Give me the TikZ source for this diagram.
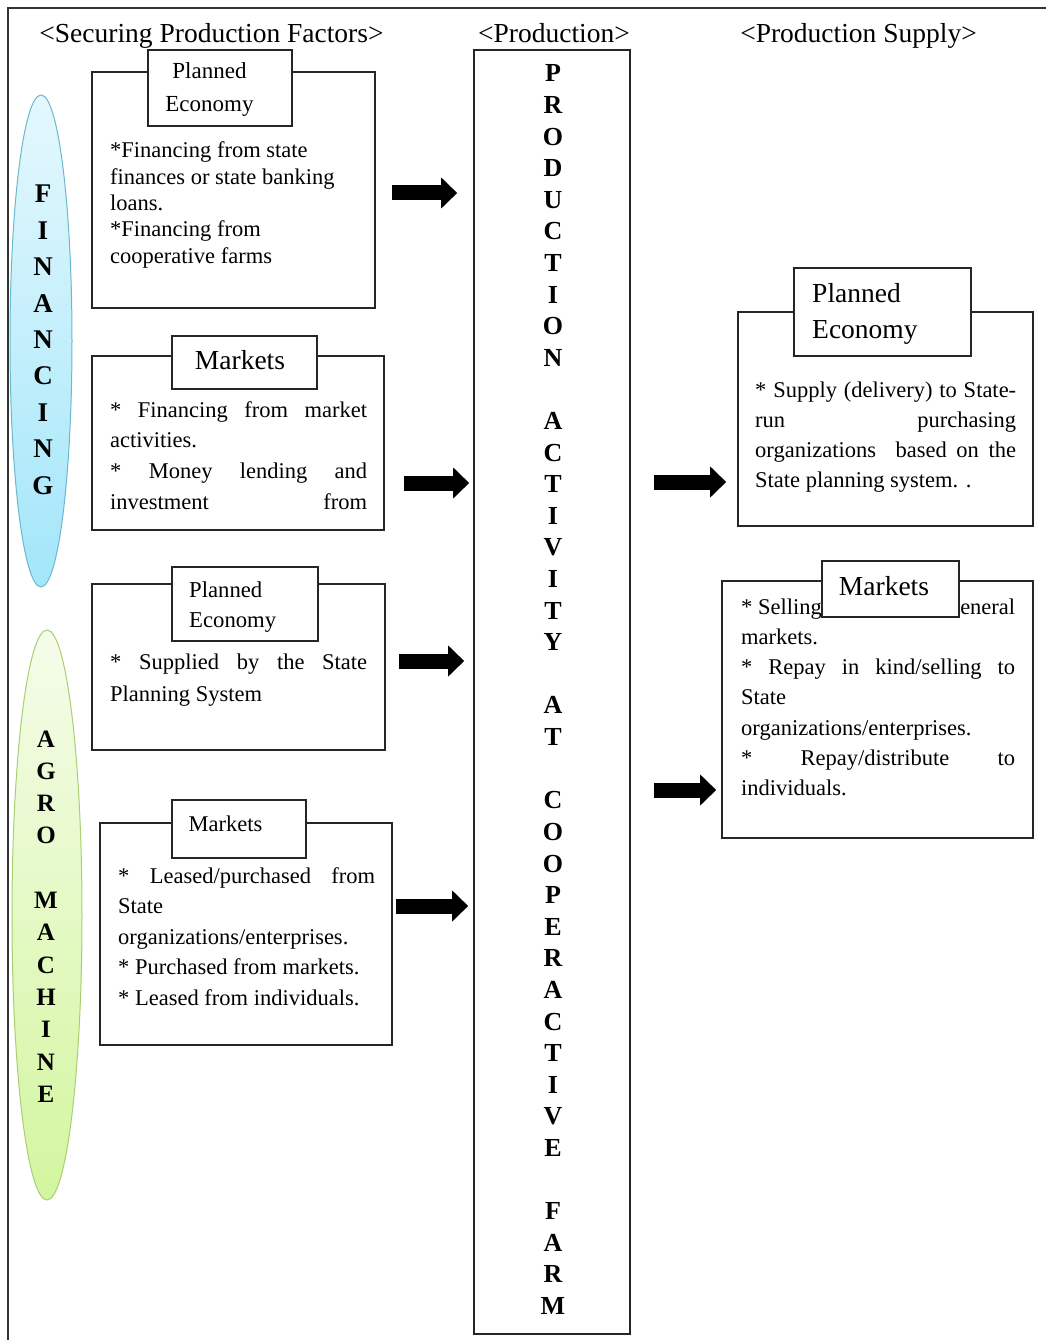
\documentclass[tikz,border=0pt]{standalone}
\usepackage{fontspec}
\setmainfont{Liberation Serif}
\usetikzlibrary{shapes.geometric,arrows.meta,calc}
\definecolor{finA}{HTML}{E4F8FD}
\definecolor{finB}{HTML}{A3E6FA}
\definecolor{finE}{HTML}{6CB9CE}
\definecolor{agA}{HTML}{F5FCEA}
\definecolor{agB}{HTML}{D3F69F}
\definecolor{agE}{HTML}{A9CF72}
\newcommand{\jl}[2][257pt]{\makebox[#1][s]{#2}}
\begin{document}
\begin{tikzpicture}[x=1pt,y=-1pt,
  box/.style={draw=black!85, line width=1.6pt, rectangle, inner sep=0pt},
  tbox/.style={box, fill=white},
  txt/.style={anchor=base west, inner sep=0pt},
  ctxt/.style={anchor=base, inner sep=0pt},
  bigarrow/.style={line width=15pt, -{Triangle[width=30pt,length=16pt]}},
  ell/.style={ellipse, line width=1pt, inner sep=0pt}
]
\useasboundingbox (0,0) rectangle (1045,1340);
\fill[white] (0,0) rectangle (1045,1340);

% ellipses
\node[ell, draw=finE, top color=finA, bottom color=finB, minimum width=62pt, minimum height=492pt] (fin) at (41,341) {};
\node[ell, draw=agE, top color=agA, bottom color=agB, minimum width=70pt, minimum height=570pt] (agro) at (47,915) {};

% outer frame
\draw[line width=1.5pt, black!80] (8,1360) -- (8,8) -- (1060,8);

% headers
\node[ctxt, font=\fontsize{27.5}{30}\selectfont] (h1) at (211.5,43) {<Securing Production Factors>};
\node[ctxt, font=\fontsize{27.5}{30}\selectfont] (h2) at (554,43) {<Production>};
\node[ctxt, font=\fontsize{27.5}{30}\selectfont] (h3) at (858.5,43) {<Production Supply>};

% letter stacks
\node[ctxt] (finl) at (43,203) {\parbox[t]{40pt}{\centering\bfseries\fontsize{27}{36.4}\selectfont F\\I\\N\\A\\N\\C\\I\\N\\G}};
\node[ctxt] (agrol) at (46,747) {\parbox[t]{40pt}{\centering\bfseries\fontsize{25}{32.3}\selectfont A\\G\\R\\O\\\mbox{}\\M\\A\\C\\H\\I\\N\\E}};

% production box
\node[box, minimum width=156pt, minimum height=1284pt] (prod) at (552,692) {};
\node[ctxt] (prodl) at (553,82) {\parbox[t]{40pt}{\centering\bfseries\fontsize{26}{31.6}\selectfont P\\R\\O\\D\\U\\C\\T\\I\\O\\N\\\mbox{}\\A\\C\\T\\I\\V\\I\\T\\Y\\\mbox{}\\A\\T\\\mbox{}\\C\\O\\O\\P\\E\\R\\A\\C\\T\\I\\V\\E\\\mbox{}\\F\\A\\R\\M}};

% box 1
\node[box, minimum width=283pt, minimum height=236pt] (b1) at (233.5,190) {};
\node[txt] (b1t) at (110,158) {\parbox[t]{300pt}{\fontsize{22.5}{26.3}\selectfont *Financing from state\\finances or state banking\\loans.\\{}*Financing from\\cooperative farms}};
\node[tbox, minimum width=144pt, minimum height=76pt] (t1) at (220,88) {};
\node[ctxt] (t1x) at (209.5,79) {\parbox[t]{130pt}{\centering\fontsize{23}{33}\selectfont Planned\\Economy}};

% box 2
\node[box, minimum width=292pt, minimum height=174pt] (b2) at (238,443) {};
\node[txt] (b2t) at (110,417) {\parbox[t]{300pt}{\fontsize{22.5}{30.7}\selectfont \jl{* Financing from market}\\activities.\\\jl{* Money lending and}\\\jl{investment from}}};
\node[tbox, minimum width=145pt, minimum height=53pt] (t2) at (244.5,362.5) {};
\node[ctxt, font=\fontsize{27.5}{30}\selectfont] (t2x) at (240,369) {Markets};

% box 3
\node[box, minimum width=293pt, minimum height=166pt] (b3) at (238.5,667) {};
\node[txt] (b3t) at (110,669) {\parbox[t]{300pt}{\fontsize{22.5}{32}\selectfont \jl{* Supplied by the State}\\Planning System}};
\node[tbox, minimum width=146pt, minimum height=74pt] (t3) at (245,604) {};
\node[txt] (t3x) at (189,597) {\parbox[t]{120pt}{\fontsize{22.7}{30}\selectfont Planned\\Economy}};

% box 4
\node[box, minimum width=292pt, minimum height=222pt] (b4) at (246,934) {};
\node[txt] (b4t) at (118,883) {\parbox[t]{300pt}{\fontsize{22.5}{30.5}\selectfont \jl{* Leased/purchased from}\\State\\organizations/enterprises.\\{}* Purchased from markets.\\{}* Leased from individuals.}};
\node[tbox, minimum width=134pt, minimum height=58pt] (t4) at (239,829) {};
\node[ctxt, font=\fontsize{22.5}{26}\selectfont] (t4x) at (225.5,831) {Markets};

% box 5
\node[box, minimum width=295pt, minimum height=214pt] (b5) at (885.5,419) {};
\node[txt] (b5t) at (755,397) {\parbox[t]{300pt}{\fontsize{22.5}{30.3}\selectfont \jl[261pt]{* Supply (delivery) to State-}\\\jl[261pt]{run purchasing}\\\jl[261pt]{organizations\ \ based on the}\\State planning system. .}};
\node[tbox, minimum width=177pt, minimum height=88pt] (t5) at (882.5,312) {};
\node[txt] (t5x) at (812,302) {\parbox[t]{150pt}{\fontsize{27.5}{36}\selectfont Planned\\Economy}};

% box 6
\node[box, minimum width=311pt, minimum height=257pt] (b6) at (877.5,709.5) {};
\node[txt] (b6t) at (741,614) {\parbox[t]{300pt}{\fontsize{22.5}{30.3}\selectfont \jl[274pt]{* Selling\hfill eneral}\\markets.\\\jl[274pt]{* Repay in kind/selling to}\\State\\organizations/enterprises.\\\jl[274pt]{* Repay/distribute to}\\individuals.}};
\node[tbox, minimum width=137pt, minimum height=56pt] (t6) at (890.5,589) {};
\node[ctxt, font=\fontsize{27.5}{30}\selectfont] (t6x) at (884,595) {Markets};

% arrows
\draw[bigarrow] ($(b1.east |- 0,193)+(16,0)$) -- ($(prod.west |- 0,193)+(-16,0)$);
\draw[bigarrow] ($(b2.east |- 0,483)+(19,0)$) -- ($(prod.west |- 0,483)+(-4,0)$);
\draw[bigarrow] ($(b3.east |- 0,661)+(13,0)$) -- ($(prod.west |- 0,661)+(-9,0)$);
\draw[bigarrow] ($(b4.east |- 0,906)+(3,0)$) -- ($(prod.west |- 0,906)+(-5,0)$);
\draw[bigarrow] ($(prod.east |- 0,482)+(23,0)$) -- ($(b5.west |- 0,482)+(-11,0)$);
\draw[bigarrow] ($(prod.east |- 0,790)+(23,0)$) -- ($(b6.west |- 0,790)+(-5,0)$);
\end{tikzpicture}
\end{document}
